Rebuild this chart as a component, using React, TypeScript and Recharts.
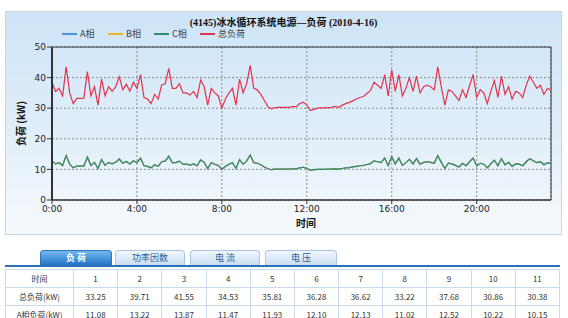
import React from 'react';
import { LineChart, Line, XAxis, YAxis, CartesianGrid, Legend, ReferenceArea } from 'recharts';

// 总负荷 (kW), one reading every 10 minutes from 0:00
const totalLoad = [
  38.5, 35.5, 36.5, 34, 43.5, 35, 31.5, 33.2, 33.2, 33.3,
  42, 34, 37, 31, 39.5, 34, 37, 35.5, 37, 40.3,
  36, 37.8, 35.5, 38.5, 36.5, 41, 33.5, 33, 31.5, 34.5,
  33, 37.6, 38, 43, 36.5, 36.5, 38, 35, 35, 34.3,
  35.5, 33.5, 39.2, 37, 31, 36.5, 35, 34, 30, 33,
  35, 36.5, 31, 39.5, 35, 38, 44, 36.5, 36, 34.5,
  32.5, 30.5, 29.8, 30.2, 30.3, 30.3, 30.3, 30.3, 30.5, 30.5,
  31.5, 32, 31, 29.2, 29.6, 30, 30.1, 30.1, 30.2, 30.3,
  30.6, 30.3, 31, 31.5, 31.9, 32.4, 33, 33.5, 33.8, 34.8,
  35.8, 38.5, 37.5, 36.5, 41, 34, 42.5, 35.5, 41, 34,
  36.5, 40, 35.5, 40.5, 35, 37, 37.5, 37, 36, 43.5,
  37, 31, 36, 35.5, 34, 32.5, 36, 33.5, 37.5, 41,
  33.5, 36, 35, 31.5, 35.5, 39, 33.5, 40.5, 34.5, 37,
  33, 35.5, 35, 33.5, 37.5, 40.5, 38.5, 36.5, 37.5, 34.5,
  36.5, 35.8,
];

// A相 / B相 / C相 (kW): the three phase lines lie on top of each other
const phaseLoad = [
  12.8, 11.8, 12.2, 11.3, 14.5, 11.7, 10.5, 11.1, 11.1, 11.1,
  14.0, 11.3, 12.3, 10.3, 13.2, 11.3, 12.3, 11.8, 12.3, 13.4,
  12.0, 12.6, 11.8, 12.8, 12.2, 13.7, 11.2, 11.0, 10.5, 11.5,
  11.0, 12.5, 12.7, 14.3, 12.2, 12.2, 12.7, 11.7, 11.7, 11.4,
  11.8, 11.2, 13.1, 12.3, 10.3, 12.2, 11.7, 11.3, 10.0, 11.0,
  11.7, 12.2, 10.3, 13.2, 11.7, 12.7, 14.7, 12.2, 12.0, 11.5,
  10.8, 10.2, 9.9, 10.1, 10.1, 10.1, 10.1, 10.1, 10.2, 10.2,
  10.5, 10.7, 10.3, 9.7, 9.9, 10.0, 10.0, 10.0, 10.1, 10.1,
  10.2, 10.1, 10.3, 10.5, 10.6, 10.8, 11.0, 11.2, 11.3, 11.6,
  11.9, 12.8, 12.5, 12.2, 13.7, 11.3, 14.2, 11.8, 13.7, 11.3,
  12.2, 13.3, 11.8, 13.5, 11.7, 12.3, 12.5, 12.3, 12.0, 14.5,
  12.3, 10.3, 12.0, 11.8, 11.3, 10.8, 12.0, 11.2, 12.5, 13.7,
  11.2, 12.0, 11.7, 10.5, 11.8, 13.0, 11.2, 13.5, 11.5, 12.3,
  11.0, 11.8, 11.7, 11.2, 12.5, 13.5, 12.8, 12.2, 12.5, 11.5,
  12.2, 11.9,
];

const xTicks = [0, 24, 48, 72, 96, 120];
const xTickLabels = ['0:00', '4:00', '8:00', '12:00', '16:00', '20:00'];
const yTicks = [0, 10, 20, 30, 40, 50];

const seriesKeys = ['a', 'b', 'c', 'total'];
const seriesNames = ['A相', 'B相', 'C相', '总负荷'];
const seriesColors = ['#4a94d8', '#f0b428', '#2f8a72', '#e0354e'];

const chartTitle = '(4145)冰水循环系统电源—负荷 (2010-4-16)';
const xAxisTitle = '时间';
const yAxisTitle = '负荷 (kW)';

const tabLabels = ['负 荷', '功率因数', '电 流', '电 压'];
const tableHeader = '时间';
const tableCols = ['1', '2', '3', '4', '5', '6', '7', '8', '9', '10', '11'];
const rowTotalLabel = '总负荷(kW)';
const tableTotal = [33.25, 39.71, 41.55, 34.53, 35.81, 36.28, 36.62, 33.22, 37.68, 30.86, 30.38];
const rowALabel = 'A相负荷(kW)';
const tableA = [11.08, 13.22, 13.87, 11.47, 11.93, 12.10, 12.13, 11.02, 12.52, 10.22, 10.15];

const data = totalLoad.map((v, i) => ({
  t: i,
  a: phaseLoad[i],
  b: phaseLoad[i],
  c: phaseLoad[i],
  total: v,
}));

const cjk = '"Noto Sans CJK SC", "DejaVu Sans", sans-serif';

const LegendContent = (props: any) => {
  const payload = props.payload || [];
  return (
    <div style={{ display: 'flex', fontFamily: cjk, fontSize: 9, lineHeight: '12px', color: '#444' }}>
      {payload.map((p: any) => (
        <div key={p.value} style={{ width: 46, display: 'flex', alignItems: 'center' }}>
          <svg width={15} height={4} style={{ marginRight: 3 }}>
            <line x1={0} y1={2} x2={15} y2={2} stroke={p.color} strokeWidth={2} />
          </svg>
          <span>{p.value}</span>
        </div>
      ))}
    </div>
  );
};

const cellStyle: React.CSSProperties = {
  border: '1px solid #c7dbed',
  height: 17,
  padding: 0,
  textAlign: 'center',
  fontSize: 8,
  lineHeight: '10px',
  color: '#333',
  fontFamily: cjk,
  whiteSpace: 'nowrap',
};

export default function App() {
  return (
    <div style={{ position: 'absolute', left: 0, top: 0, width: 568, height: 318, overflow: 'hidden', background: '#fff' }}>
      <div
        style={{
          position: 'absolute',
          left: 5,
          top: 11,
          width: 555,
          height: 222,
          border: '1px solid #c4d8ea',
          background: 'linear-gradient(to bottom, #cde4f7 0%, #e3eff9 60%, #f7fafd 100%)',
        }}
      >
        <LineChart width={555} height={222} data={data} margin={{ top: 35, right: 10, left: 0, bottom: 0 }}>
          <CartesianGrid stroke="#8c8c8c" strokeDasharray="2 2" />
          <XAxis
            dataKey="t"
            type="number"
            domain={[0, 141]}
            ticks={xTicks}
            tickFormatter={(v: number) => xTickLabels[xTicks.indexOf(v)]}
            tick={{ fontSize: 9, fill: '#222', fontFamily: '"DejaVu Sans", sans-serif' }}
            tickSize={4}
            tickMargin={2}
            height={34}
            stroke="#333"
            axisLine={{ stroke: '#333' }}
            tickLine={{ stroke: '#333' }}
          />
          <YAxis
            domain={[0, 50]}
            ticks={yTicks}
            tick={{ fontSize: 9, fill: '#222', fontFamily: '"DejaVu Sans", sans-serif' }}
            tickSize={5}
            tickMargin={1}
            width={46}
            axisLine={{ stroke: '#333', strokeWidth: 2 }}
            tickLine={{ stroke: '#333' }}
          />
          <ReferenceArea x1={0} x2={141} y1={0} y2={50} fill="none" stroke="#333" strokeWidth={1} />
          {seriesKeys.map((k, i) => (
            <Line
              key={k}
              type="linear"
              dataKey={k}
              name={seriesNames[i]}
              stroke={seriesColors[i]}
              strokeWidth={1.2}
              dot={false}
              activeDot={false}
              isAnimationActive={false}
            />
          ))}
          <Legend
            layout="horizontal"
            verticalAlign="middle"
            align="center"
            content={LegendContent}
            wrapperStyle={{ top: 16, left: 56, width: 220, height: 12 }}
          />
        </LineChart>

        <div
          style={{
            position: 'absolute',
            left: 0,
            top: 5,
            width: 555,
            textAlign: 'center',
            fontFamily: '"Liberation Serif", "Noto Sans CJK SC", serif',
            fontWeight: 'bold',
            fontSize: 10,
            lineHeight: '11px',
            color: '#111',
          }}
        >
          {chartTitle}
        </div>
        <div
          style={{
            position: 'absolute',
            left: -26,
            top: 105,
            width: 80,
            textAlign: 'center',
            transform: 'rotate(-90deg)',
            fontFamily: cjk,
            fontWeight: 'bold',
            fontSize: 10,
            lineHeight: '13px',
            color: '#111',
          }}
        >
          {yAxisTitle}
        </div>
        <div
          style={{
            position: 'absolute',
            left: 280,
            top: 204,
            width: 40,
            textAlign: 'center',
            fontFamily: cjk,
            fontWeight: 'bold',
            fontSize: 10,
            lineHeight: '13px',
            color: '#111',
          }}
        >
          {xAxisTitle}
        </div>
      </div>

      {tabLabels.map((label, i) => {
        const lefts = [40, 115, 190, 265];
        const widths = [72, 70, 70, 72];
        const active = i === 0;
        return (
          <div
            key={label}
            style={{
              position: 'absolute',
              left: lefts[i],
              top: 250,
              width: widths[i],
              height: 15,
              boxSizing: 'border-box',
              borderRadius: '4px 4px 0 0',
              border: active ? '1px solid #2a73c0' : '1px solid #a9c7e4',
              borderBottom: 'none',
              background: active
                ? 'linear-gradient(to bottom, #74b8ef, #2474c4)'
                : 'linear-gradient(to bottom, #f1f7fd, #c9def2)',
              color: active ? '#fff' : '#2d5f96',
              fontFamily: cjk,
              fontSize: 9,
              fontWeight: active ? 'bold' : 'normal',
              lineHeight: '14px',
              textAlign: 'center',
            }}
          >
            {label}
          </div>
        );
      })}
      <div style={{ position: 'absolute', left: 5, top: 265, width: 555, height: 2, background: '#2a6fb9' }} />

      <table
        style={{
          position: 'absolute',
          left: 5,
          top: 269,
          width: 555,
          borderCollapse: 'collapse',
          tableLayout: 'fixed',
        }}
      >
        <colgroup>
          <col style={{ width: 68 }} />
          {tableCols.map((c) => (
            <col key={c} />
          ))}
        </colgroup>
        <tbody>
          <tr>
            <td style={cellStyle}>{tableHeader}</td>
            {tableCols.map((c) => (
              <td key={c} style={cellStyle}>{c}</td>
            ))}
          </tr>
          <tr>
            <td style={cellStyle}>{rowTotalLabel}</td>
            {tableTotal.map((v, i) => (
              <td key={i} style={cellStyle}>{v.toFixed(2)}</td>
            ))}
          </tr>
          <tr>
            <td style={cellStyle}>{rowALabel}</td>
            {tableA.map((v, i) => (
              <td key={i} style={cellStyle}>{v.toFixed(2)}</td>
            ))}
          </tr>
        </tbody>
      </table>
    </div>
  );
}
